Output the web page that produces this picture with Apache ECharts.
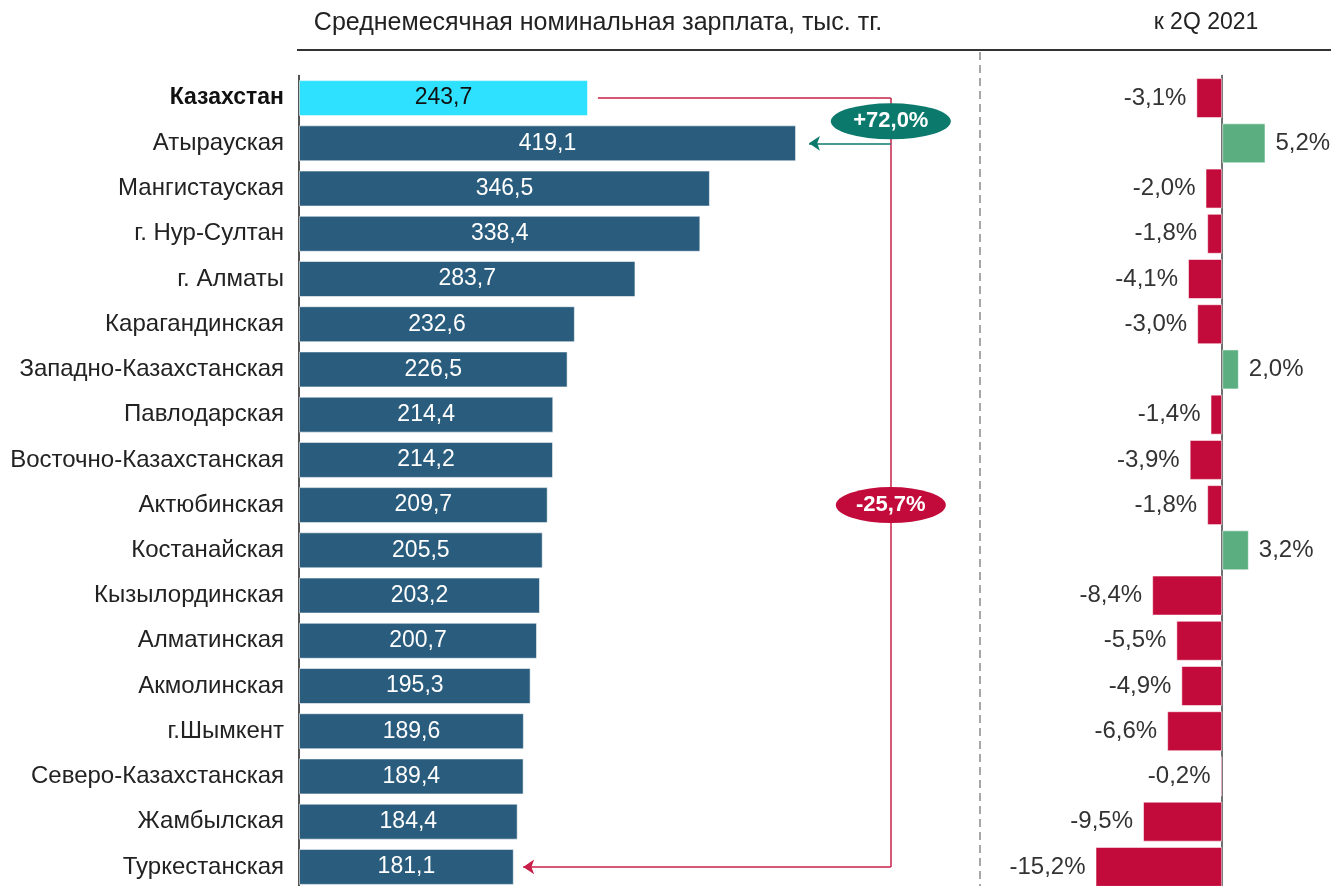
<!DOCTYPE html>
<html>
<head>
<meta charset="utf-8">
<script src="https://cdn.jsdelivr.net/npm/echarts@6/dist/echarts.min.js"></script>
<style>
html,body{margin:0;padding:0;background:#fff;overflow:hidden;}
#chart{width:1331px;height:900px;}
</style>
</head>
<body>
<div id="chart"></div>
<script>
const categories = ['Казахстан','Атырауская','Мангистауская','г. Нур-Султан','г. Алматы','Карагандинская','Западно-Казахстанская','Павлодарская','Восточно-Казахстанская','Актюбинская','Костанайская','Кызылординская','Алматинская','Акмолинская','г.Шымкент','Северо-Казахстанская','Жамбылская','Туркестанская'];
const salary = [243.7,419.1,346.5,338.4,283.7,232.6,226.5,214.4,214.2,209.7,205.5,203.2,200.7,195.3,189.6,189.4,184.4,181.1];
const change = [-3.1,5.2,-2.0,-1.8,-4.1,-3.0,2.0,-1.4,-3.9,-1.8,3.2,-8.4,-5.5,-4.9,-6.6,-0.2,-9.5,-15.2];
const leftTitle = 'Среднемесячная номинальная зарплата, тыс. тг.';
const rightTitle = 'к 2Q 2021';
const maxLabel = '+72,0%';
const minLabel = '-25,7%';
const connectorX = 499;

const FONT = '"Liberation Sans", Arial, sans-serif';
const fmt = v => v.toFixed(1).replace('.', ',');
const iTop = 0, iMax = 1, iMin = categories.length - 1, iMid = 9;

const chart = echarts.init(document.getElementById('chart'));
chart.setOption({
  animation: false,
  textStyle: {fontFamily: FONT},
  grid: [
    {left: 299, top: 75.5, width: 593, height: 814},
    {left: 1055.5, top: 75.5, width: 250, height: 814}
  ],
  xAxis: [
    {gridIndex: 0, type: 'value', min: 0, max: 500, show: false},
    {gridIndex: 1, type: 'value', min: -20, max: 10, show: false}
  ],
  yAxis: [
    {gridIndex: 0, type: 'category', data: categories, inverse: true,
     axisLine: {lineStyle: {color: '#1a1a1a', width: 1.5}},
     axisTick: {show: false}, splitLine: {show: false},
     axisLabel: {margin: 15, fontSize: 24, color: '#222', fontFamily: FONT,
       formatter: (v, i) => i === 0 ? '{b|' + v + '}' : v,
       rich: {b: {fontWeight: 'bold', fontSize: 23, color: '#111', fontFamily: FONT}}}},
    {gridIndex: 1, type: 'category', data: categories, inverse: true,
     axisLine: {onZero: true, lineStyle: {color: '#404040', width: 1.5}},
     axisTick: {show: false}, axisLabel: {show: false}, splitLine: {show: false}}
  ],
  series: [
    {type: 'bar', xAxisIndex: 0, yAxisIndex: 0, barWidth: 36,
     data: salary.map((v, i) => ({value: v,
       itemStyle: {color: i === 0 ? '#2EE2FF' : '#2A5D7D'},
       label: {color: i === 0 ? '#111' : '#fff'}})),
     itemStyle: {borderColor: 'rgba(255,255,255,0.55)', borderWidth: 1},
     label: {show: true, position: 'inside', fontSize: 23, fontFamily: FONT,
       formatter: p => fmt(p.value)}},
    {type: 'bar', xAxisIndex: 1, yAxisIndex: 1, barWidth: 40,
     data: change.map(v => ({value: v,
       itemStyle: {color: v < 0 ? '#C30B3B' : '#5AAE7F'},
       label: {position: v < 0 ? 'left' : 'right'}})),
     itemStyle: {borderColor: 'rgba(255,255,255,0.55)', borderWidth: 1},
     label: {show: true, distance: 10, fontSize: 24, color: '#333', fontFamily: FONT,
       formatter: p => fmt(p.value) + '%'}},
    {type: 'lines', coordinateSystem: 'cartesian2d', xAxisIndex: 0, yAxisIndex: 0,
     symbol: ['none', 'none'], z: 3,
     lineStyle: {color: '#C8204A', width: 1.5, opacity: 1},
     data: [
       {coords: [[252, iTop], [connectorX, iTop]]},
       {coords: [[connectorX, iTop], [connectorX, iMin]]}
     ]},
    {type: 'lines', coordinateSystem: 'cartesian2d', xAxisIndex: 0, yAxisIndex: 0,
     symbol: ['none', 'arrow'], symbolSize: 11, z: 3,
     lineStyle: {width: 1.5, opacity: 1},
     data: [
       {coords: [[connectorX, iMin], [189, iMin]], lineStyle: {color: '#C8204A'}},
       {coords: [[connectorX, iMax], [430, iMax]], lineStyle: {color: '#0B7A6C'}}
     ]},
    {type: 'scatter', xAxisIndex: 0, yAxisIndex: 0, symbol: 'circle', z: 5,
     itemStyle: {opacity: 1},
     emphasis: {disabled: true},
     data: [
       {value: [connectorX, iMax], symbolSize: [120, 36], symbolOffset: [0, -22],
        itemStyle: {color: '#0B7A6C', opacity: 1}, label: {formatter: maxLabel}},
       {value: [connectorX, iMid], symbolSize: [110, 36],
        itemStyle: {color: '#C30B3B', opacity: 1}, label: {formatter: minLabel}}
     ],
     label: {show: true, position: 'inside', color: '#fff', fontWeight: 'bold', fontSize: 22, fontFamily: FONT}}
  ],
  graphic: [
    {type: 'text', x: 598, y: 23, style: {text: leftTitle, fill: '#222', font: '25px ' + FONT, textAlign: 'center', textVerticalAlign: 'middle'}},
    {type: 'text', x: 1206, y: 23, style: {text: rightTitle, fill: '#222', font: '23px ' + FONT, textAlign: 'center', textVerticalAlign: 'middle'}},
    {type: 'line', shape: {x1: 297, y1: 50, x2: 1331, y2: 50}, style: {stroke: '#333', lineWidth: 2}},
    {type: 'line', shape: {x1: 980, y1: 52, x2: 980, y2: 900}, style: {stroke: '#8a8a8a', lineWidth: 1.5, lineDash: [8, 5]}}
  ]
});
</script>
</body>
</html>
